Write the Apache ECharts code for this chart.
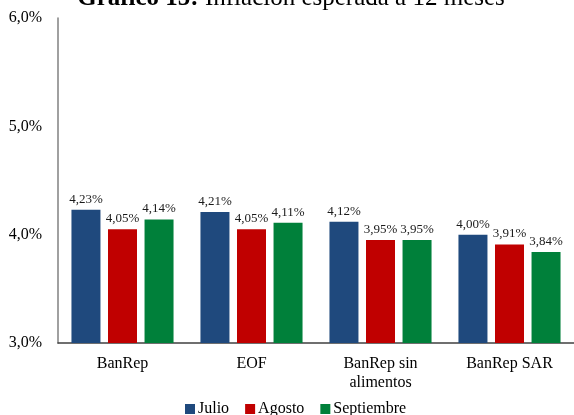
<!DOCTYPE html>
<html><head><meta charset="utf-8">
<script src="https://cdn.jsdelivr.net/npm/echarts@6/dist/echarts.min.js"></script>
<style>html,body{margin:0;padding:0;background:#fff}#c{width:574px;height:415px}</style>
</head><body><div id="c"></div>
<script>
const categories = ['BanRep', 'EOF', 'BanRep sin\nalimentos', 'BanRep SAR'];
const julio = [4.23, 4.21, 4.12, 4.00];
const agosto = [4.05, 4.05, 3.95, 3.91];
const septiembre = [4.14, 4.11, 3.95, 3.84];
const seriesNames = ['Julio', 'Agosto', 'Septiembre'];
const colors = ['#1F497D', '#C00000', '#00803A'];
const font = 'Liberation Serif';
const fmt = v => v.toFixed(2).replace('.', ',') + '%';
const chart = echarts.init(document.getElementById('c'));
const mk = (name, data, color) => ({
  name, type: 'bar', data, barWidth: 29, barGap: '26%',
  itemStyle: { color },
  label: { show: true, position: 'top', distance: 4, color: '#1a1a1a', fontFamily: font, fontSize: 13,
    formatter: p => fmt(p.value) }
});
chart.setOption({
  animation: false,
  title: { text: '{b|Gráfico 15:} Inflación esperada a 12 meses', left: 286, textAlign: 'center', top: -19,
    textStyle: { fontFamily: font, fontSize: 25, fontWeight: 'normal', color: '#000',
      rich: { b: { fontFamily: font, fontSize: 25, fontWeight: 'bold', color: '#000' } } } },
  legend: { top: 396, left: 180, itemWidth: 10, itemHeight: 10, itemGap: 16,
    textStyle: { fontFamily: font, fontSize: 16, color: '#000', padding: [0, 0, 0, -2] },
    data: seriesNames.map(n => ({ name: n, icon: 'rect' })) },
  grid: { left: 58, right: -7, top: 18, bottom: 72 },
  xAxis: { type: 'category', data: categories,
    axisLine: { lineStyle: { color: '#404040', width: 1.5 } }, axisTick: { show: false },
    axisLabel: { fontFamily: font, fontSize: 16, color: '#000', margin: 11, lineHeight: 19 } },
  yAxis: { type: 'value', min: 3, max: 6, interval: 1,
    axisLine: { show: true, lineStyle: { color: '#808080', width: 1.5 } }, axisTick: { show: false },
    splitLine: { show: false },
    axisLabel: { fontFamily: font, fontSize: 16, color: '#000', margin: 16,
      formatter: v => v.toFixed(1).replace('.', ',') + '%' } },
  series: [mk(seriesNames[0], julio, colors[0]), mk(seriesNames[1], agosto, colors[1]), mk(seriesNames[2], septiembre, colors[2])]
});
</script></body></html>
